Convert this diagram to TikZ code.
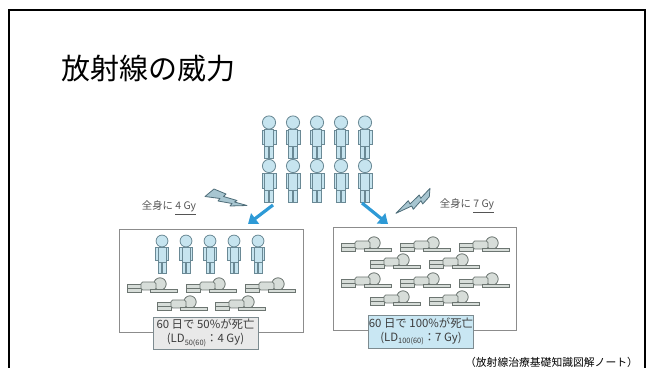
\documentclass[tikz,border=0pt]{standalone}
\usepackage{fontspec}
\setmainfont{Noto Sans CJK JP}
\usetikzlibrary{arrows.meta}

\definecolor{manfill}{HTML}{C6E4EF}
\definecolor{manline}{HTML}{6A8995}
\definecolor{lyfill}{HTML}{D7DDD9}
\definecolor{lyline}{HTML}{6C7571}
\definecolor{boxline}{HTML}{8C8C8C}
\definecolor{capgray}{HTML}{E9E9E9}
\definecolor{capblue}{HTML}{C9E7F3}
\definecolor{capline}{HTML}{7D8B90}
\definecolor{captext}{HTML}{3C3C3C}
\definecolor{arrowblue}{HTML}{2E9AD6}
\definecolor{boltfill}{HTML}{A8C6D1}
\definecolor{boltline}{HTML}{4E6D79}
\definecolor{labeltext}{HTML}{555555}

\newcommand{\ldsub}[1]{\raisebox{-0.45ex}{\fontsize{3.7}{4}\selectfont #1}}

\tikzset{
  man/.style={fill=manfill, draw=manline, line width=0.4pt},
  lyman/.style={fill=lyfill, draw=lyline, line width=0.4pt},
  % upright person, origin at centre of the head
  standing/.pic={
    \filldraw[man] (-7,7.5) rectangle (7,22);
    \filldraw[man] (-4.4,7) rectangle (4.4,24);
    \filldraw[man] (-4.4,24) rectangle (-0.5,36);
    \filldraw[man] (0.5,24) rectangle (4.4,36);
    \filldraw[man] (0,0) circle (6.6);
  },
  % person lying down, origin at lower left of the legs
  sleeping/.pic={
    \filldraw[lyman] (33,-8) circle (6.2);
    \filldraw[lyman] (0,-7.5) rectangle (14,0);
    \draw[lyman, fill=none] (0,-3.7) -- (14,-3.7);
    \filldraw[lyman, rounded corners=0.8pt] (14,-2) rectangle (29,-10);
    \filldraw[lyman] (23,-3) rectangle (50,0);
  },
  dosearrow/.style={draw=arrowblue, line width=1.6pt, -{Triangle[length=4.5pt,width=6.5pt]}},
  bolt/.style={fill=boltfill, draw=boltline, line width=0.4pt, line join=round},
  groupbox/.style={draw=boxline, line width=0.5pt},
  caption/.style={draw=capline, line width=0.5pt, align=center, inner sep=0pt,
    text=captext, font=\fontsize{5.7}{6.8}\selectfont},
  doselabel/.style={text=labeltext, font=\fontsize{5.2}{6}\selectfont, inner sep=0pt},
}

\begin{document}
\begin{tikzpicture}[x=0.5pt,y=-0.5pt]
\useasboundingbox (0,0) rectangle (652,368);
% slide frame
\draw[line width=1pt] (8.5,368) -- (8.5,10) -- (644.5,10) -- (644.5,368);
\node[anchor=west, font=\fontsize{14.5}{16}\selectfont] (title) at (54,68) {放射線の威力};

% ten people before exposure
\foreach \row in {122.5,166}
  \foreach \col in {269,293,317,341,365}
    \pic at (\col,\row) {standing};

% the two outcomes
\draw[groupbox] (119,230) rectangle (303,332);
\draw[groupbox] (333,228) rectangle (516,330);

\foreach \col in {162,186,210,234,258}
  \pic[scale=0.9] at (\col,241) {standing};
\foreach \col in {127,186,245}
  \pic at (\col,292) {sleeping};
\foreach \col in {157,215}
  \pic at (\col,310) {sleeping};

\foreach \row in {251,287}
  \foreach \col in {341,400,459}
    \pic at (\col,\row) {sleeping};
\foreach \row in {268,305}
  \foreach \col in {370,429}
    \pic at (\col,\row) {sleeping};

\node[caption, fill=capgray, minimum width=52.5pt, minimum height=16pt] (cap4) at (205.5,333)
  {60 日で 50\%が死亡\\(LD\ldsub{50(60)}：4 Gy)};
\node[caption, fill=capblue, minimum width=52pt, minimum height=16.5pt] (cap7) at (421,331.5)
  {60 日で 100\%が死亡\\(LD\ldsub{100(60)}：7 Gy)};

% arrows
\coordinate (from4) at (273,205);
\coordinate (to4) at (248,224);
\coordinate (from7) at (362,203);
\coordinate (to7) at (388,224);
\draw[dosearrow] (from4) -- (to4);
\draw[dosearrow] (from7) -- (to7);

% lightning
\filldraw[bolt] (205,196.5) -- (214,189) -- (226,194) -- (223.5,196.5) -- (237,200.5)
  -- (234.5,202) -- (247,205.5) -- (230,206) -- (232,203.5) -- (218,201)
  -- (220,198.5) -- cycle;
\filldraw[bolt] (396,213.3) -- (408.3,200.7) -- (410,204) -- (419.3,195) -- (420.7,198.3)
  -- (430,188.3) -- (429.3,196.7) -- (422.7,204) -- (421,200.7) -- (413.3,209.3)
  -- (411.7,206) -- cycle;

\node[doselabel] (dose4) at (169,208) {全身に \underline{4 Gy}};
\node[doselabel] (dose7) at (467,206) {全身に \underline{7 Gy}};

\node[font=\fontsize{5.4}{6}\selectfont, inner sep=0pt] (source) at (551.5,362)
  {（放射線治療基礎知識図解ノート）};
\end{tikzpicture}
\end{document}
